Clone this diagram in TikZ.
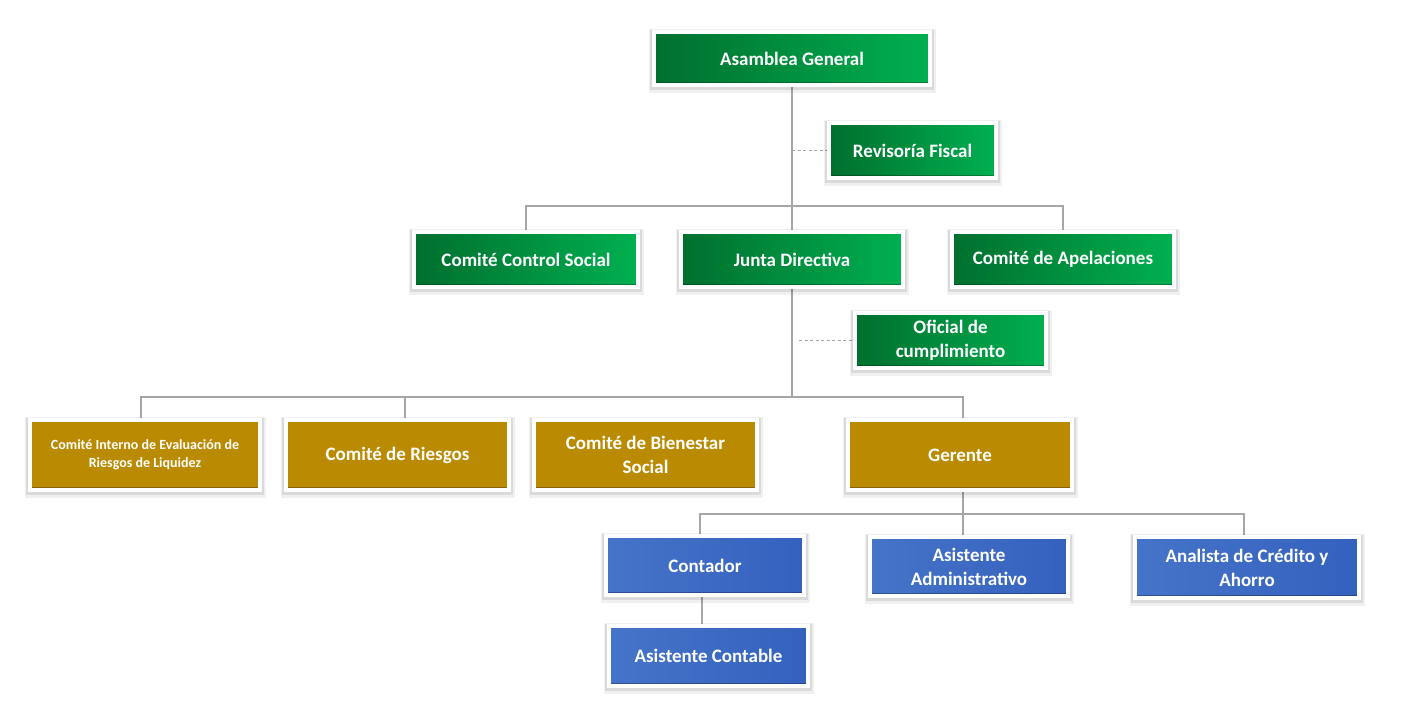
\documentclass[tikz,border=0pt]{standalone}
\usepackage{fontspec}
\setmainfont{Carlito}
\usetikzlibrary{backgrounds}
\definecolor{gDark}{HTML}{006F2E}
\definecolor{gLight}{HTML}{00B050}
\definecolor{goldc}{HTML}{BA8A00}
\definecolor{bLight}{HTML}{4674C9}
\definecolor{bDark}{HTML}{3461BD}
\definecolor{lineGray}{HTML}{A6A6A6}
\tikzset{
  box/.style={draw=white, line width=4pt, text=white, align=center, inner sep=0pt,
    font=\bfseries\fontsize{19}{24}\selectfont,
    preaction={draw=black, draw opacity=.06, line width=11pt, transform canvas={yshift=-2pt}},
    preaction={draw=black, draw opacity=.09, line width=7.5pt, transform canvas={yshift=-1.5pt}},
    path picture={
      \fill[black, opacity=.28] (path picture bounding box.south west) rectangle ([yshift=3pt]path picture bounding box.south east);
      \fill[black, opacity=.12] (path picture bounding box.north east) rectangle ([xshift=-2.5pt]path picture bounding box.south east);
    }},
  greenbox/.style={box, left color=gDark, right color=gLight},
  goldbox/.style={box, fill=goldc},
  bluebox/.style={box, left color=bLight, right color=bDark},
  conn/.style={draw=lineGray, line width=1.2pt},
  dashconn/.style={draw=lineGray, line width=1.2pt, dash pattern=on 3pt off 2.5pt}
}
\begin{document}
\begin{tikzpicture}[x=1pt, y=-1pt]
\useasboundingbox (0,0) rectangle (1401,713);
\begin{scope}[on background layer]
\fill[white] (0,0) rectangle (1401,713);
\end{scope}
% level 1
\node[greenbox, minimum width=276pt, minimum height=53pt] (ag) at (792,58.5) {Asamblea General};
\node[greenbox, minimum width=167pt, minimum height=55pt] (rf) at (912.5,150.5) {Revisoría Fiscal};
% level 2
\node[greenbox, minimum width=224pt, minimum height=55pt] (ccs) at (526,259.5) {Comité Control Social};
\node[greenbox, minimum width=222pt, minimum height=55pt] (jd) at (792,259.5) {Junta Directiva};
\node[greenbox, minimum width=222pt, minimum height=55pt] (ca) at (1063,259.5) {Comité de Apelaciones};
\node[greenbox, minimum width=191pt, minimum height=55pt] (oc) at (950.5,340.5) {Oficial de\\cumplimiento};
% level 3
\node[goldbox, minimum width=230pt, minimum height=70pt, font=\bfseries\fontsize{14}{18}\selectfont] (ci) at (145,455) {Comité Interno de Evaluación de\\Riesgos de Liquidez};
\node[goldbox, minimum width=223pt, minimum height=70pt] (cr) at (397.5,455) {Comité de Riesgos};
\node[goldbox, minimum width=223pt, minimum height=70pt] (cb) at (645.5,455) {Comité de Bienestar\\Social};
\node[goldbox, minimum width=224pt, minimum height=70pt] (ge) at (960,455) {Gerente};
% level 4
\node[bluebox, minimum width=198pt, minimum height=59pt] (co) at (705,565.5) {Contador};
\node[bluebox, minimum width=198pt, minimum height=59pt] (aa) at (969,566.5) {Asistente\\Administrativo};
\node[bluebox, minimum width=224pt, minimum height=61pt] (an) at (1247,567.5) {Analista de Crédito y\\Ahorro};
\node[bluebox, minimum width=199pt, minimum height=60pt] (ac) at (708.5,656) {Asistente Contable};
% connectors
\coordinate (b1) at (0,206);
\coordinate (b2) at (0,397);
\coordinate (b3) at (0,514);
\begin{scope}[on background layer]
\draw[conn] (ag.south) -- (ag.south |- jd.north);
\draw[conn] (ccs.north) -- (ccs.north |- b1) -- (ca.north |- b1) -- (ca.north);
\draw[dashconn] (ag.south |- rf.west) -- (rf.west);
\draw[conn] (jd.south) -- (jd.south |- b2);
\draw[dashconn] ([xshift=7pt]jd.south |- oc.west) -- (oc.west);
\draw[conn] ([xshift=-4pt]ci.north) -- ([xshift=-4pt]ci.north |- b2) -- ([xshift=3pt]ge.north |- b2) -- ([xshift=3pt]ge.north);
\draw[conn] ([xshift=7.5pt]cr.north) -- ([xshift=7.5pt]cr.north |- b2);
\draw[conn] ([xshift=3pt]ge.south) -- ([xshift=3pt]ge.south |- b3);
\draw[conn] ([xshift=-5pt]co.north) -- ([xshift=-5pt]co.north |- b3) -- ([xshift=-3pt]an.north |- b3) -- ([xshift=-3pt]an.north);
\draw[conn] ([xshift=-6pt]aa.north) -- ([xshift=-6pt]aa.north |- b3);
\draw[conn] ([xshift=-3pt]co.south) -- ([xshift=-3pt]co.south |- ac.north);
\end{scope}
\end{tikzpicture}
\end{document}
